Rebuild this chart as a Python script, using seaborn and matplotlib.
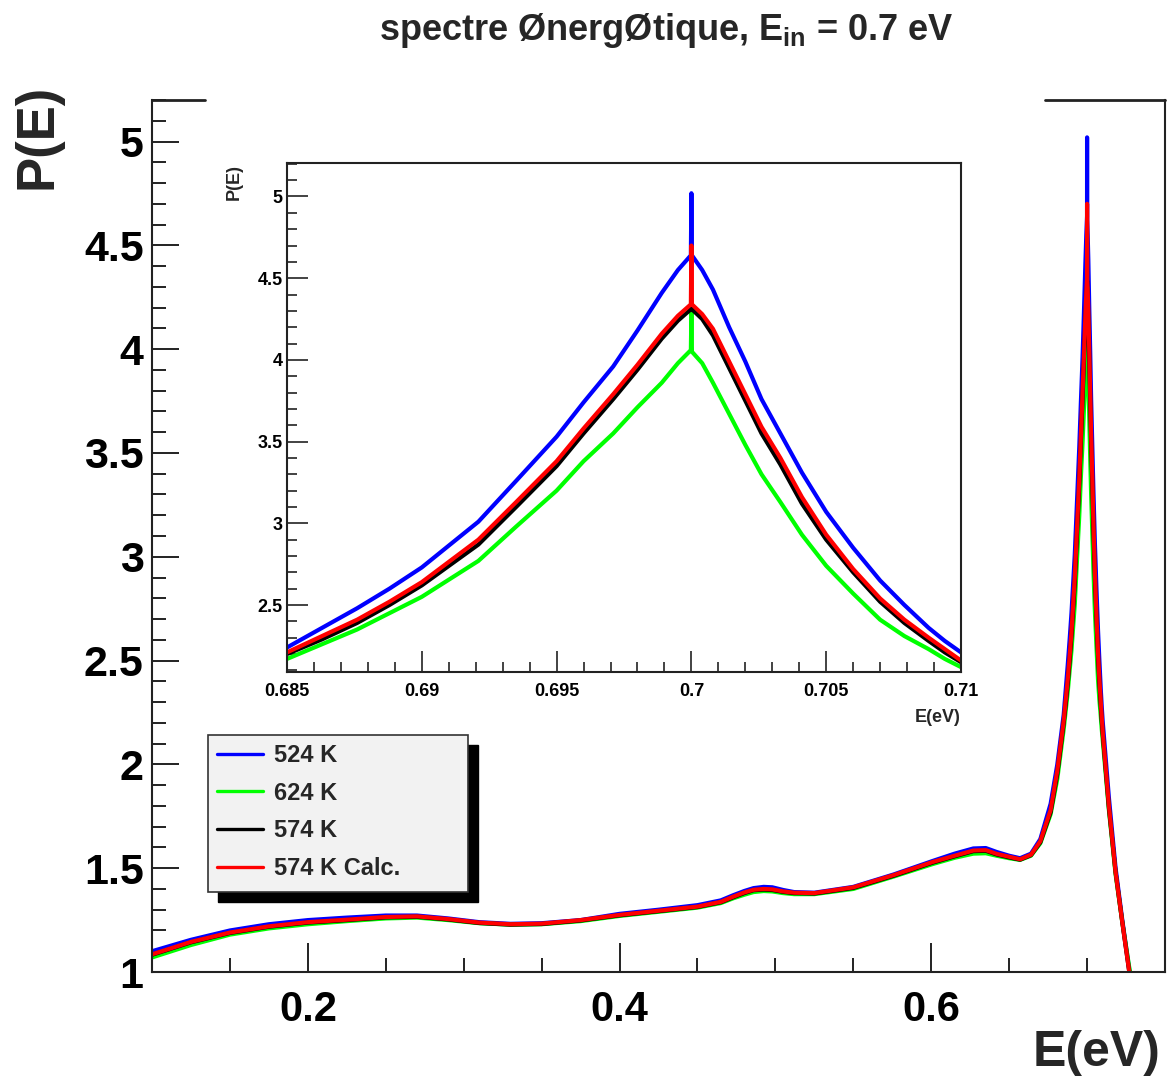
import matplotlib
matplotlib.use("Agg")
import matplotlib.pyplot as plt
from matplotlib.lines import Line2D
from matplotlib.patches import Rectangle
from matplotlib.ticker import MultipleLocator, FuncFormatter
import seaborn as sns
import pandas as pd

# ---------------- data ----------------
energy = [0.100, 0.125, 0.150, 0.175, 0.200, 0.225, 0.250, 0.270, 0.290, 0.310,
          0.330, 0.350, 0.375, 0.400, 0.425, 0.450, 0.465, 0.473, 0.480, 0.486,
          0.4925, 0.498, 0.505, 0.512, 0.525, 0.550, 0.576, 0.601, 0.615, 0.627,
          0.635, 0.642, 0.650, 0.657, 0.664, 0.670, 0.6766, 0.6809,
          0.685, 0.6863, 0.6876, 0.6888, 0.690, 0.6921, 0.6935, 0.695, 0.6960,
          0.6971, 0.6980, 0.6989, 0.6995, 0.69998, 0.7000, 0.70002,
          0.7004, 0.7008, 0.7014, 0.7020, 0.7026, 0.7033, 0.7041, 0.7050, 0.7060,
          0.7070, 0.7079, 0.7088, 0.7094, 0.7100,
          0.714, 0.7183, 0.7226, 0.7269, 0.730]

p_524K = [1.100, 1.155, 1.200, 1.230, 1.250, 1.262, 1.272, 1.272, 1.258, 1.240,
          1.232, 1.235, 1.250, 1.280, 1.300, 1.322, 1.345, 1.370, 1.390, 1.404,
          1.410, 1.408, 1.395, 1.385, 1.382, 1.410, 1.470, 1.535, 1.570, 1.595,
          1.597, 1.578, 1.560, 1.548, 1.570, 1.640, 1.810, 2.000,
          2.24, 2.36, 2.48, 2.60, 2.73, 3.01, 3.26, 3.53, 3.74,
          3.96, 4.18, 4.41, 4.55, 4.64, 5.02, 4.64,
          4.55, 4.43, 4.20, 3.99, 3.76, 3.55, 3.31, 3.07, 2.85,
          2.65, 2.50, 2.36, 2.28, 2.21,
          1.84, 1.50, 1.25, 1.02, 0.88]

p_624K = [1.070, 1.130, 1.180, 1.210, 1.230, 1.245, 1.258, 1.262, 1.250, 1.235,
          1.228, 1.230, 1.245, 1.270, 1.290, 1.310, 1.332, 1.355, 1.372, 1.385,
          1.390, 1.388, 1.380, 1.375, 1.375, 1.400, 1.460, 1.520, 1.550, 1.570,
          1.572, 1.560, 1.548, 1.540, 1.560, 1.620, 1.760, 1.930,
          2.17, 2.26, 2.35, 2.45, 2.55, 2.77, 2.98, 3.20, 3.38,
          3.55, 3.71, 3.86, 3.98, 4.06, 4.30, 4.05,
          3.98, 3.86, 3.67, 3.48, 3.30, 3.13, 2.93, 2.74, 2.57,
          2.41, 2.31, 2.23, 2.17, 2.12,
          1.78, 1.47, 1.24, 1.03, 0.90]

p_574K = [1.083, 1.143, 1.188, 1.218, 1.238, 1.250, 1.263, 1.266, 1.253, 1.236,
          1.228, 1.231, 1.248, 1.273, 1.293, 1.313, 1.336, 1.360, 1.380, 1.394,
          1.397, 1.395, 1.386, 1.380, 1.378, 1.405, 1.464, 1.527, 1.557, 1.582,
          1.584, 1.566, 1.552, 1.541, 1.563, 1.625, 1.770, 1.955,
          2.20, 2.29, 2.39, 2.50, 2.62, 2.87, 3.10, 3.35, 3.55,
          3.76, 3.94, 4.13, 4.24, 4.31, 4.33, 4.31,
          4.25, 4.15, 3.95, 3.75, 3.55, 3.36, 3.12, 2.90, 2.70,
          2.52, 2.39, 2.28, 2.21, 2.15,
          1.79, 1.48, 1.24, 1.01, 0.88]

p_574K_calc = [1.085, 1.145, 1.190, 1.220, 1.240, 1.252, 1.265, 1.268, 1.255, 1.238,
               1.230, 1.233, 1.250, 1.275, 1.295, 1.315, 1.338, 1.363, 1.383, 1.396,
               1.400, 1.398, 1.388, 1.382, 1.380, 1.408, 1.467, 1.530, 1.560, 1.585,
               1.587, 1.569, 1.555, 1.543, 1.565, 1.630, 1.780, 1.970,
               2.21, 2.31, 2.41, 2.52, 2.64, 2.90, 3.13, 3.38, 3.58,
               3.79, 3.97, 4.16, 4.27, 4.34, 4.70, 4.34,
               4.28, 4.19, 3.99, 3.79, 3.59, 3.40, 3.16, 2.93, 2.72,
               2.54, 2.41, 2.30, 2.23, 2.16,
               1.80, 1.48, 1.24, 1.01, 0.88]

series_labels = ["524 K", "624 K", "574 K", "574 K Calc."]
series_colors = ["#0000ff", "#00ff00", "#000000", "#ff0000"]

title_text = r"spectre ØnergØtique, E$_{\rm in}$ = 0.7 eV"
x_label = "E(eV)"
y_label = "P(E)"

# ---------------- table ----------------
df = pd.DataFrame({"E": energy,
                   series_labels[0]: p_524K,
                   series_labels[1]: p_624K,
                   series_labels[2]: p_574K,
                   series_labels[3]: p_574K_calc})
long = df.melt(id_vars="E", var_name="serie", value_name="P")

# ---------------- style ----------------
sns.set_style("white")
plt.rcParams["font.family"] = ["Liberation Sans", "DejaVu Sans"]
plt.rcParams["font.weight"] = "bold"
plt.rcParams["mathtext.fontset"] = "custom"
plt.rcParams["mathtext.rm"] = "Liberation Sans:bold"
plt.rcParams["mathtext.it"] = "Liberation Sans:bold"
plt.rcParams["mathtext.bf"] = "Liberation Sans:bold"

W, H = 1168, 1080
fig = plt.figure(figsize=(W / 100, H / 100), dpi=100)
fig.patch.set_facecolor("white")

def fx(px):
    return px / W

def fy(py):
    return 1 - py / H

palette = dict(zip(series_labels, series_colors))
fmt = FuncFormatter(lambda v, p: f"{v:g}")
frame_c = "#222222"

# ---------------- main axes ----------------
ax = fig.add_axes([fx(152), fy(972), fx(1165) - fx(152), fy(100) - fy(972)])
sns.lineplot(data=long, x="E", y="P", hue="serie", hue_order=series_labels,
             palette=palette, estimator=None, sort=False, lw=3.0,
             legend=False, ax=ax)
ax.set_xlim(0.1, 0.75)
ax.set_ylim(1.0, 5.2)
ax.set_xlabel("")
ax.set_ylabel("")
ax.xaxis.set_major_locator(MultipleLocator(0.2))
ax.xaxis.set_minor_locator(MultipleLocator(0.05))
ax.yaxis.set_major_locator(MultipleLocator(0.5))
ax.yaxis.set_minor_locator(MultipleLocator(0.1))
ax.xaxis.set_major_formatter(fmt)
ax.yaxis.set_major_formatter(fmt)
ax.tick_params(bottom=True, left=True, top=False, right=False, which="both")
ax.tick_params(axis="x", which="major", direction="in", length=21, width=1.4,
               labelsize=30, pad=13, colors=frame_c, labelcolor="black")
ax.tick_params(axis="x", which="minor", direction="in", length=10, width=1.4,
               colors=frame_c)
ax.tick_params(axis="y", which="major", direction="in", length=19.5, width=1.4,
               labelsize=31, pad=6, colors=frame_c, labelcolor="black")
ax.tick_params(axis="y", which="minor", direction="in", length=10, width=1.4,
               colors=frame_c)
for lab in ax.get_xticklabels() + ax.get_yticklabels():
    lab.set_fontweight("bold")
for s in ["left", "bottom", "right"]:
    ax.spines[s].set_color(frame_c)
    ax.spines[s].set_linewidth(1.5)
ax.spines["top"].set_visible(False)
# partially visible top frame (the title box hides its middle)
ax.axhline(5.2, xmin=0, xmax=(205 - 152) / (1165 - 152), color=frame_c, lw=2.0, clip_on=False)
ax.axhline(5.2, xmin=(1045 - 152) / (1165 - 152), xmax=1, color=frame_c, lw=2.0, clip_on=False)

# legend box with black shadow
shadow = Rectangle((fx(218), fy(902)), fx(478) - fx(218), fy(745) - fy(902),
                   transform=fig.transFigure, facecolor="black", edgecolor="black",
                   zorder=4.0, clip_on=False)
box = Rectangle((fx(208), fy(892)), fx(468) - fx(208), fy(735) - fy(892),
                transform=fig.transFigure, facecolor="#f2f2f2", edgecolor="#333333",
                lw=1.2, zorder=4.1, clip_on=False)
ax.add_patch(shadow)
ax.add_patch(box)
handles = [Line2D([], [], color=c, lw=2.4) for c in series_colors]
leg = ax.legend(handles, series_labels, loc="upper left",
                bbox_to_anchor=(fx(210), fy(737)), bbox_transform=fig.transFigure,
                frameon=False, prop={"size": 17, "weight": "bold"},
                handlelength=1.95, handletextpad=0.45, labelspacing=0.62,
                borderpad=0.3, borderaxespad=0)
leg.set_zorder(5)

# ---------------- inset ----------------
axin = fig.add_axes([fx(287), fy(672), fx(961) - fx(287), fy(163) - fy(672)])
axin.set_facecolor("white")
sns.lineplot(data=long, x="E", y="P", hue="serie", hue_order=series_labels,
             palette=palette, estimator=None, sort=False, lw=3.0,
             legend=False, ax=axin)
axin.set_xlim(0.685, 0.71)
axin.set_ylim(2.09, 5.205)
axin.set_xlabel("")
axin.set_ylabel("")
axin.xaxis.set_major_locator(MultipleLocator(0.005))
axin.xaxis.set_minor_locator(MultipleLocator(0.001))
axin.yaxis.set_major_locator(MultipleLocator(0.5))
axin.yaxis.set_minor_locator(MultipleLocator(0.1))
axin.xaxis.set_major_formatter(fmt)
axin.yaxis.set_major_formatter(fmt)
axin.tick_params(bottom=True, left=True, top=False, right=False, which="both")
axin.tick_params(which="major", direction="in", length=15, width=1.2,
                 labelsize=13, colors=frame_c, labelcolor="black")
axin.tick_params(which="minor", direction="in", length=7.5, width=1.2, colors=frame_c)
axin.tick_params(axis="x", pad=8)
axin.tick_params(axis="y", pad=3)
for lab in axin.get_xticklabels() + axin.get_yticklabels():
    lab.set_fontweight("bold")
for s in axin.spines.values():
    s.set_color(frame_c)
    s.set_linewidth(1.5)

# ---------------- texts ----------------
fig.text(fx(666), fy(30), title_text, ha="center", va="center",
         fontsize=26, fontweight="bold")
fig.text(fx(38), fy(84), y_label, rotation=90, ha="center", va="top",
         fontsize=38, fontweight="bold")
fig.text(fx(1161), fy(1053), x_label, ha="right", va="center",
         fontsize=36, fontweight="bold")
fig.text(fx(234), fy(164), y_label, rotation=90, ha="center", va="top",
         fontsize=13, fontweight="bold")
fig.text(fx(961), fy(718), x_label, ha="right", va="center",
         fontsize=13, fontweight="bold")

fig.savefig("out.png", dpi=100, facecolor="white")
